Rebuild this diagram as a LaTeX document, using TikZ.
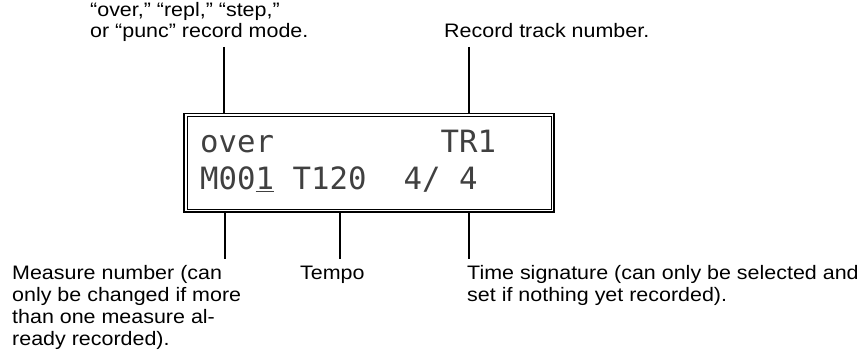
\documentclass[tikz,border=0pt]{standalone}
\usepackage{fontspec}
\setmainfont{Liberation Sans}[FakeStretch=1.1]
\newfontfamily\lcdfont{DejaVu Sans Mono}
\begin{document}
\begin{tikzpicture}[x=1pt,y=-1pt,
  lbl/.style={font=\fontsize{19.5}{22}\selectfont, inner sep=0pt, anchor=base west},
  lcd/.style={font=\lcdfont\fontsize{30.7}{31}\selectfont, text=black!75, inner sep=0pt, anchor=base west},
  conn/.style={line width=1.3pt},
  outerframe/.style={draw, line width=1.7pt, inner sep=0pt},
  innerframe/.style={draw, line width=0.9pt, inner sep=0pt}
]
\useasboundingbox (0,0) rectangle (860,355);

% top labels
\node[lbl] (mode1) at (90,17) {“over,” “repl,” “step,”};
\node[lbl] (mode2) at (90,38) {or “punc” record mode.};
\node[lbl] (track) at (444,38) {Record track number.};

% display frame
\node[outerframe, minimum width=370pt, minimum height=98.5pt] (box) at (369,162.75) {};
\node[innerframe, minimum width=364pt, minimum height=92.5pt] (boxin) at (box.center) {};

% LCD text
\node[lcd] (over) at (200,153) {over};
\node[lcd] (tr) at (440.5,153) {TR1};
\node[lcd] (meas) at (200,190) {M00\underline{1}};
\node[lcd] (tempo) at (292.5,190) {T120};
\node[lcd] (sigA) at (403.5,190) {4/};
\node[lcd] (sigB) at (459,190) {4};

% bottom labels
\node[lbl] (m1) at (12,280) {Measure number (can};
\node[lbl] (m2) at (12,302) {only be changed if more};
\node[lbl] (m3) at (12,324) {than one measure al-};
\node[lbl] (m4) at (12,346) {ready recorded).};
\node[lbl] (tp) at (300,280) {Tempo};
\node[lbl] (ts1) at (467,280) {Time signature (can only be selected and};
\node[lbl] (ts2) at (467,302) {set if nothing yet recorded).};

% connector ends
\coordinate (cmode) at (224,47);
\coordinate (ctrack) at (469,47);
\coordinate (cmeas) at (225,259);
\coordinate (ctempo) at (340,259);
\coordinate (csig) at (469,259);

\draw[conn] (cmode) -- (cmode |- box.north);
\draw[conn] (ctrack) -- (ctrack |- box.north);
\draw[conn] (cmeas |- box.south) -- (cmeas);
\draw[conn] (ctempo |- box.south) -- (ctempo);
\draw[conn] (csig |- box.south) -- (csig);
\end{tikzpicture}
\end{document}
